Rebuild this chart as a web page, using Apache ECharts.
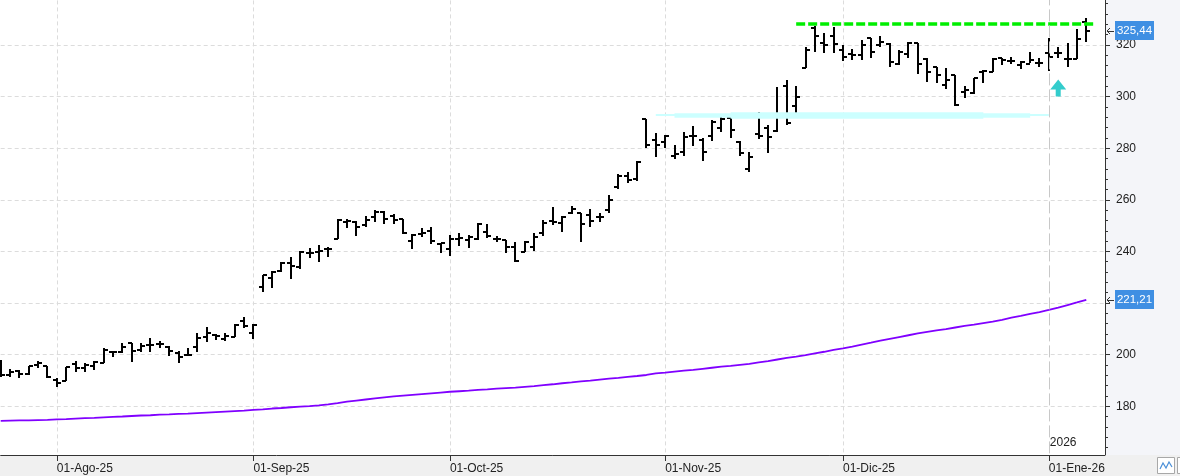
<!DOCTYPE html>
<html><head><meta charset="utf-8">
<script src="https://cdn.jsdelivr.net/npm/echarts@6/dist/echarts.min.js"></script>
<style>
html,body{margin:0;padding:0;background:#fff;}
#wrap{position:relative;width:1180px;height:476px;overflow:hidden;background:#fff;}
#panel{position:absolute;left:1105px;top:0;width:75px;height:455px;background:#f4f5f9;}
#chart{position:absolute;left:0;top:0;width:1180px;height:476px;}
</style></head><body>
<div id="wrap"><div id="panel"></div><div id="chart"></div></div>
<script>
// ---- data ----
const dates = [
 '2025-07-24','2025-07-25','2025-07-28','2025-07-29','2025-07-30','2025-07-31',
 '2025-08-01','2025-08-04','2025-08-05','2025-08-06','2025-08-07','2025-08-08','2025-08-11','2025-08-12','2025-08-13','2025-08-14','2025-08-15','2025-08-18','2025-08-19','2025-08-20','2025-08-21','2025-08-22','2025-08-25','2025-08-26','2025-08-27','2025-08-28','2025-08-29',
 '2025-09-02','2025-09-03','2025-09-04','2025-09-05','2025-09-08','2025-09-09','2025-09-10','2025-09-11','2025-09-12','2025-09-15','2025-09-16','2025-09-17','2025-09-18','2025-09-19','2025-09-22','2025-09-23','2025-09-24','2025-09-25','2025-09-26','2025-09-29','2025-09-30',
 '2025-10-01','2025-10-02','2025-10-03','2025-10-06','2025-10-07','2025-10-08','2025-10-09','2025-10-10','2025-10-13','2025-10-14','2025-10-15','2025-10-16','2025-10-17','2025-10-20','2025-10-21','2025-10-22','2025-10-23','2025-10-24','2025-10-27','2025-10-28','2025-10-29','2025-10-30','2025-10-31',
 '2025-11-03','2025-11-04','2025-11-05','2025-11-06','2025-11-07','2025-11-10','2025-11-11','2025-11-12','2025-11-13','2025-11-14','2025-11-17','2025-11-18','2025-11-19','2025-11-20','2025-11-21','2025-11-24','2025-11-25','2025-11-26','2025-11-28',
 '2025-12-01','2025-12-02','2025-12-03','2025-12-04','2025-12-05','2025-12-08','2025-12-09','2025-12-10','2025-12-11','2025-12-12','2025-12-15','2025-12-16','2025-12-17','2025-12-18','2025-12-19','2025-12-22','2025-12-23','2025-12-24','2025-12-26','2025-12-29','2025-12-30','2025-12-31',
 '2026-01-02','2026-01-05','2026-01-06','2026-01-07','2026-01-08'
];
const opens = [
 197.0,191.9,193.5,192.5,195.8,195.6,
 190.0,189.9,196.4,194.7,195.7,196.6,201.0,201.1,204.4,201.8,203.7,204.1,202.8,200.7,199.8,203.1,206.7,207.7,205.9,207.0,213.2,
 208.5,226.3,229.8,232.4,235.4,234.1,239.2,239.6,240.9,244.8,251.5,251.3,250.2,253.5,255.4,253.9,252.6,244.0,246.9,247.9,242.8,
 240.8,245.0,244.4,244.7,247.6,244.7,244.4,241.6,239.9,241.6,247.0,251.8,250.9,254.7,254.8,254.1,253.2,256.0,264.8,269.2,267.9,291.2,283.2,
 282.3,277.0,278.7,284.9,283.2,284.7,287.7,291.7,282.3,271.8,285.5,288.0,286.7,304.2,296.4,311.0,326.5,320.8,323.5,
 318.1,316.5,316.1,322.6,320.0,320.4,312.6,316.5,320.6,314.4,311.6,304.5,308.4,301.9,301.3,309.7,309.7,314.8,313.9,312.3,312.6,312.9,
 317.0,317.0,314.4,314.4,329.0
];
const highs = [
 197.9,194.3,194.2,195.7,197.4,195.7,
 190.8,195.1,197.7,196.9,197.7,202.4,201.1,204.4,204.4,204.4,206.3,205.4,203.3,201.5,202.4,208.2,210.6,208.0,208.5,211.9,214.4,
 211.9,230.9,232.4,236.0,238.0,240.2,241.4,242.5,241.8,252.6,252.6,251.8,253.9,256.0,255.7,254.4,252.6,246.6,249.2,249.6,243.4,
 246.3,247.0,246.3,251.1,250.5,246.0,244.4,243.8,244.0,247.0,252.2,257.1,253.7,257.6,254.8,256.3,255.0,261.9,270.0,270.9,275.2,291.2,285.8,
 285.1,281.2,286.4,288.6,283.8,290.9,292.0,291.9,282.8,278.4,294.2,289.0,303.6,306.4,304.1,319.3,327.4,324.5,326.9,
 320.0,318.3,321.9,322.6,323.5,320.6,318.1,321.3,320.9,314.8,311.6,311.0,308.4,304.1,307.1,310.3,314.8,314.8,315.2,313.9,317.2,314.8,
 322.6,319.1,320.9,326.1,330.3
];
const lows = [
 191.2,191.2,190.8,192.1,194.7,190.8,
 187.3,189.9,193.4,193.4,194.0,196.6,199.0,200.5,197.3,201.1,201.1,202.7,199.5,196.6,199.4,201.1,205.0,205.7,205.4,207.0,210.2,
 205.9,224.4,225.9,232.1,229.2,233.2,237.6,236.0,238.0,244.8,249.2,246.1,249.6,251.5,250.5,250.5,246.6,240.8,245.7,242.7,239.2,
 238.3,242.1,241.4,244.4,245.3,243.8,239.3,235.7,239.9,240.3,246.0,250.2,247.6,254.5,243.8,249.3,251.5,255.0,264.1,266.4,267.4,279.9,276.7,
 280.0,275.8,277.0,280.8,275.2,282.9,286.4,283.8,277.1,270.6,283.4,278.3,286.4,289.0,293.8,311.0,317.4,316.8,316.8,
 313.9,314.2,314.2,314.8,319.1,311.3,312.3,314.8,308.8,305.8,305.1,302.8,296.4,299.3,301.0,305.4,309.7,312.3,312.6,310.6,312.9,311.3,
 310.0,314.8,311.6,314.4,321.3
];
const closes = [
 192.2,193.2,192.6,195.6,196.7,191.4,
 189.1,195.0,194.7,196.1,197.0,201.8,201.0,203.1,201.5,203.3,203.7,204.1,201.5,199.2,199.9,206.3,208.5,207.2,207.2,211.5,211.2,
 211.5,230.9,232.2,235.4,234.5,239.9,239.2,240.2,241.1,252.2,251.9,249.3,252.2,255.4,252.6,252.2,247.0,246.4,247.3,244.0,243.1,
 244.7,245.3,245.7,250.6,246.0,244.7,241.6,236.3,243.8,245.5,250.9,251.3,253.2,256.3,250.5,251.9,253.2,259.9,269.2,267.7,274.8,281.2,281.2,
 284.7,277.6,284.2,284.7,278.7,290.3,291.3,287.1,278.3,276.5,284.9,284.2,292.9,289.6,299.7,318.1,323.5,320.1,320.4,
 315.2,316.1,320.0,317.4,321.3,313.5,317.4,320.6,312.6,309.7,308.4,306.4,296.7,302.6,307.1,310.0,314.6,314.2,313.9,313.5,314.2,312.9,
 315.2,316.8,314.4,322.2,325.44
];
const sma200 = [
 174.3,174.4,174.5,174.5,174.6,174.7,
 174.9,175.0,175.2,175.4,175.5,175.7,175.9,176.0,176.2,176.4,176.5,176.7,176.8,177.0,177.1,177.3,177.5,177.7,177.9,178.1,178.3,
 178.6,178.8,179.1,179.3,179.6,179.8,180.0,180.3,180.7,181.2,181.8,182.2,182.6,183.0,183.4,183.8,184.1,184.4,184.7,185.0,185.3,
 185.6,185.8,186.0,186.3,186.5,186.8,187.0,187.2,187.5,187.8,188.2,188.5,188.9,189.2,189.6,189.9,190.3,190.7,191.0,191.4,191.7,192.1,192.7,
 193.0,193.4,193.8,194.1,194.5,194.9,195.3,195.6,196.0,196.4,197.0,197.5,198.1,198.7,199.2,199.8,200.5,201.1,201.8,
 202.4,203.1,203.9,204.6,205.4,206.1,206.8,207.5,208.2,208.8,209.4,209.9,210.5,211.1,211.6,212.2,212.8,213.5,214.3,215.0,215.8,216.5,
 217.3,218.2,219.2,220.2,221.21
];
const monthNames = ['Ene','Feb','Mar','Abr','May','Jun','Jul','Ago','Sep','Oct','Nov','Dic'];
const yTickLabels = [180,200,220,240,260,280,300,320];
const resistanceLevel = 328.4;   // green dashed line
const supportLevel = 292.9;      // cyan band
const arrowLevel = 303.3;        // cyan up arrow

// ---- helpers ----
const axisCats = dates.concat(['', '']);
const FONT = "'Liberation Sans',Arial,sans-serif";
function isMonthStart(i){ return i > 0 && i < dates.length && dates[i].slice(0,7) !== dates[i-1].slice(0,7); }
function isYearStart(i){ return i > 0 && i < dates.length && dates[i].slice(0,4) !== dates[i-1].slice(0,4); }
const yearIdx = dates.findIndex((d,i) => isYearStart(i));
const resStart = dates.indexOf('2025-11-21');
const resEnd = dates.length;
const bandA = [dates.indexOf('2025-10-31'), dates.indexOf('2026-01-02')];
const bandB = [dates.indexOf('2025-11-04'), dates.indexOf('2025-12-30')];
const bandC = [dates.indexOf('2025-11-12'), dates.indexOf('2025-12-22')];
const arrowIdx = dates.indexOf('2026-01-05');

const ohlc = dates.map((d,i) => [i, opens[i], highs[i], lows[i], closes[i]]);

function renderOHLC(params, api){
  const i = api.value(0);
  const pH = api.coord([i, api.value(2)]);
  const pL = api.coord([i, api.value(3)]);
  const yO = Math.round(api.coord([i, api.value(1)])[1]);
  const yC = Math.round(api.coord([i, api.value(4)])[1]);
  const x = Math.round(pH[0]);
  const st = {stroke:'#000', lineWidth:2};
  return {type:'group', children:[
    {type:'line', shape:{x1:x, y1:Math.round(pH[1]), x2:x, y2:Math.round(pL[1])}, style:st},
    {type:'line', shape:{x1:x-4, y1:yO, x2:x, y2:yO}, style:st},
    {type:'line', shape:{x1:x, y1:yC, x2:x+4, y2:yC}, style:st}
  ]};
}

const chart = echarts.init(document.getElementById('chart'), null, {renderer:'canvas'});
const option = {
  animation:false,
  backgroundColor:'transparent',
  textStyle:{fontFamily:FONT},
  grid:[
    {left:0.7, right:75, top:-6.6, height:464.4, outerBoundsMode:'none', containLabel:false},
    {left:0.7, right:75, top:454, height:1, outerBoundsMode:'none', containLabel:false}
  ],
  xAxis:[
    {gridIndex:0, type:'category', data:axisCats, boundaryGap:false,
     axisLine:{show:false}, axisTick:{show:false}, axisLabel:{show:false},
     splitLine:{show:true, interval:(i)=>isMonthStart(i) && !isYearStart(i), lineStyle:{color:'#dcdcdc', type:[4,3], width:1}}},
    {gridIndex:1, type:'category', data:axisCats, boundaryGap:false, z:10,
     axisLine:{show:true, lineStyle:{color:'#333', width:1}},
     axisTick:{show:true, interval:(i)=>isMonthStart(i), length:6, lineStyle:{color:'#333'}},
     axisLabel:{show:true, interval:(i)=>isMonthStart(i), align:'left', margin:8, fontSize:12, color:'#222', fontFamily:FONT,
       formatter:(v)=>{ if(!v) return ''; const m=+v.slice(5,7); return '01-'+monthNames[m-1]+'-'+v.slice(2,4); }},
     splitLine:{show:false}}
  ],
  yAxis:[
    {gridIndex:0, type:'value', position:'right', min:160, max:340, interval:20, scale:true,
     axisLine:{show:true, lineStyle:{color:'#333', width:1}},
     axisTick:{show:true, length:5, lineStyle:{color:'#333'}},
     minorTick:{show:true, splitNumber:5, length:3, lineStyle:{color:'#333'}},
     axisLabel:{show:true, margin:11, fontSize:12, color:'#222', fontFamily:FONT, showMinLabel:false, showMaxLabel:false,
       formatter:(v)=> yTickLabels.indexOf(v) >= 0 ? String(v) : ''},
     splitLine:{show:true, lineStyle:{color:'#dcdcdc', type:[4,3], width:1}},
     minorSplitLine:{show:false}},
    {gridIndex:1, type:'value', show:false}
  ],
  series:[
    {type:'line', name:'SMA200', xAxisIndex:0, yAxisIndex:0, data:sma200, showSymbol:false, symbol:'none', z:2,
     lineStyle:{color:'#8000ff', width:1.8}, clip:true, silent:true,
     markLine:{silent:true, symbol:'none', animation:false, label:{show:false}, data:[
       [{coord:[bandA[0], supportLevel], lineStyle:{color:'#ccffff', width:2, type:'solid', cap:'butt'}}, {coord:[bandA[1], supportLevel]}],
       [{coord:[bandB[0], supportLevel], lineStyle:{color:'#ccffff', width:4.5, type:'solid', cap:'butt'}}, {coord:[bandB[1], supportLevel]}],
       [{coord:[bandC[0], supportLevel], lineStyle:{color:'#ccffff', width:6.5, type:'solid', cap:'butt'}}, {coord:[bandC[1], supportLevel]}],
       [{coord:[resStart, resistanceLevel], lineStyle:{color:'#00ee00', width:3.5, type:[9,3], cap:'butt'}}, {coord:[resEnd, resistanceLevel]}],
       [{coord:[yearIdx, 340], lineStyle:{color:'#c8c8c8', width:1, type:[12,4]}}, {coord:[yearIdx, 160]}]
     ]},
     markPoint:{silent:true, animation:false, label:{show:false}, data:[
       {coord:[arrowIdx, arrowLevel], symbol:'path://M8,0 L16,10 L10.5,10 L10.5,17 L5.5,17 L5.5,10 L0,10 Z', symbolSize:[16,17], itemStyle:{color:'#33cccc'}}
     ]}
    },
    {type:'custom', name:'OHLC', xAxisIndex:0, yAxisIndex:0, data:ohlc, renderItem:renderOHLC, clip:true, z:3, silent:true,
     encode:{x:0, y:[1,2,3,4]}}
  ]
};
chart.setOption(option);

function fmt(v){ return v.toFixed(2).replace('.', ','); }
function valueTag(v){
  const yc = Math.round(chart.convertToPixel({yAxisIndex:0}, v));
  return [
    {type:'polyline', z:20, shape:{points:[[1110,yc-3],[1107,yc],[1110,yc+3]]}, style:{stroke:'#333', lineWidth:1, fill:null}},
    {type:'line', z:20, shape:{x1:1107, y1:yc+0.5, x2:1114, y2:yc+0.5}, style:{stroke:'#333', lineWidth:1}},
    {type:'rect', z:20, shape:{x:1115, y:yc-10, width:39, height:19}, style:{fill:'#3f8fe3'}},
    {type:'text', z:21, x:1134.5, y:yc, style:{text:fmt(v), fill:'#fff', fontSize:11.5, fontFamily:FONT, align:'center', verticalAlign:'middle'}}
  ];
}
const xYear = chart.convertToPixel({xAxisIndex:0}, yearIdx);
const graphics = [
  {type:'rect', z:5, shape:{x:0, y:455, width:1180, height:21}, style:{fill:'#f0f0f0'}},
  {type:'rect', z:6, shape:{x:1157.5, y:457.5, width:17, height:16}, style:{fill:'#fff', stroke:'#a8a8a8', lineWidth:1}},
  {type:'polyline', z:7, shape:{points:[[1160,469],[1163,463],[1166,468],[1169,462],[1172,467]]}, style:{stroke:'#4a8fd8', lineWidth:1.2, fill:null}},
  {type:'rect', z:6, shape:{x:1177.5, y:457.5, width:10, height:16}, style:{fill:'#fff', stroke:'#a8a8a8', lineWidth:1}},
  {type:'text', z:8, x:xYear+1, y:443, style:{text:String(dates[yearIdx].slice(0,4)), fill:'#222', fontSize:12, fontFamily:FONT, align:'left', verticalAlign:'middle'}}
].concat(valueTag(closes[closes.length-1])).concat(valueTag(sma200[sma200.length-1]));
chart.setOption({graphic:{elements:graphics}});
</script>
</body></html>
